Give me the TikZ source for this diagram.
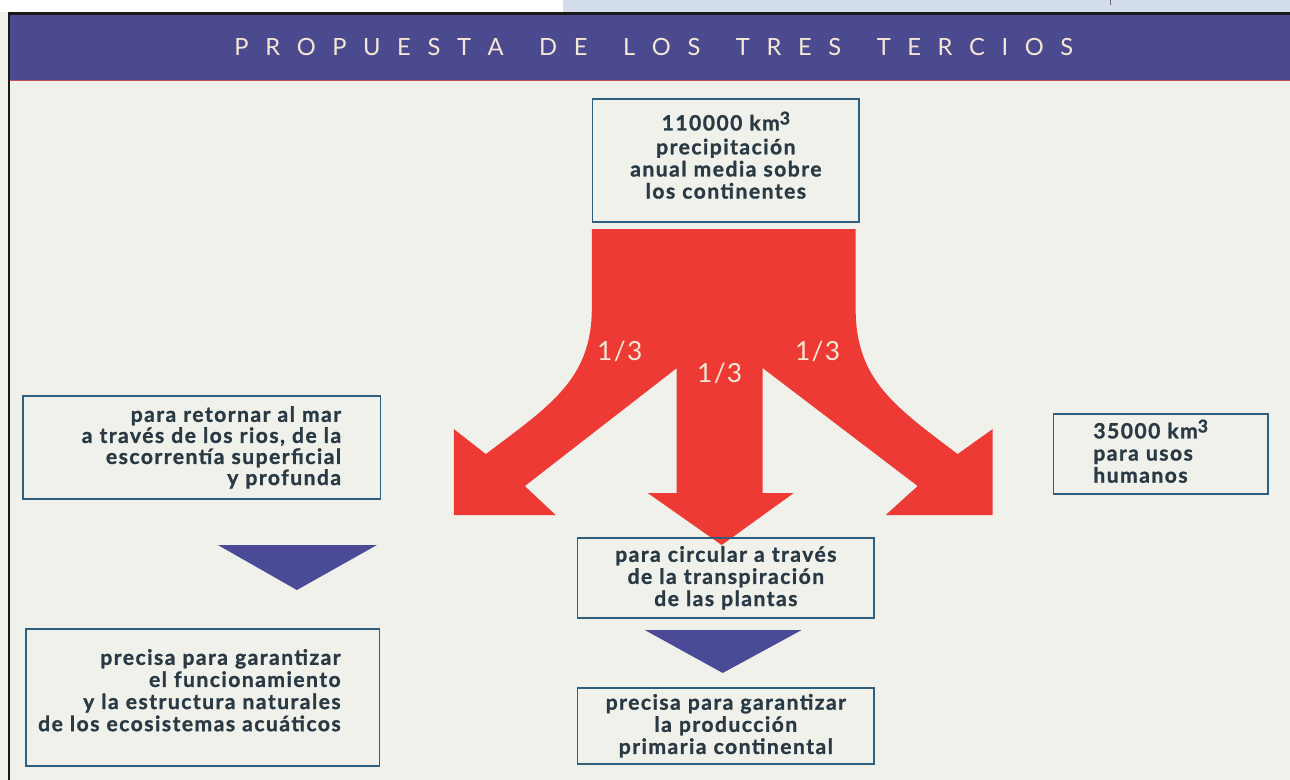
\documentclass[tikz,border=0pt]{standalone}
\usepackage{fontspec}
\setmainfont{Lato}
\newfontfamily\boxfont[LetterSpace=7,BoldFeatures={FakeBold=1.2}]{Lato}
\newfontfamily\titlefont{Lato}
\newfontfamily\partfont[LetterSpace=5]{Lato}
\newcommand{\cubic}{\raisebox{0.55ex}{\fontsize{10}{10}\selectfont 3}}
\makeatletter
\newcommand{\spreadword}[1]{\@tfor\sp@letter:=#1\do{\sp@letter\kern0.7em}\unkern}
\makeatother

\definecolor{r241g241b236}{rgb}{0.945098,0.945098,0.925490}%
\definecolor{r75g74b142}{rgb}{0.294118,0.290196,0.556863}%
\definecolor{r211g221b236}{rgb}{0.827451,0.866667,0.925490}%
\definecolor{r238g58b53}{rgb}{0.933333,0.227451,0.207843}%
\definecolor{r74g74b151}{rgb}{0.290196,0.290196,0.592157}%
\definecolor{r46g95b126}{rgb}{0.180392,0.372549,0.494118}%
\definecolor{r42g58b69}{rgb}{0.164706,0.227451,0.270588}%
\definecolor{r244g231b213}{rgb}{0.956863,0.905882,0.835294}%
\definecolor{r200g80b80}{rgb}{0.784314,0.313725,0.313725}%

\tikzset{
  textbox/.style={draw=r46g95b126, line width=0.032cm, anchor=north west,
    inner ysep=0pt, text=r42g58b69,
    execute at begin node={\hyphenpenalty=10000},
    font=\boxfont\bfseries\fontsize{12}{12.6}\selectfont},
  flushright/.style={inner xsep=0.05cm,
    execute at begin node={\raggedleft\rightskip=#1}},
  third/.style={text=r244g231b213, font=\partfont\fontsize{15}{15}\selectfont}
}

\begin{document}
\begin{tikzpicture}[x=0.02cm,y=-0.02cm]

% Page background and upper strip
\fill [r241g241b236] (0,0) rectangle (1290,780);%
\fill [white] (0,0) rectangle (563,12);%
\fill [r211g221b236] (563,0) rectangle (1290,12);%
\draw [line width=0.01cm, black!60] (1111,0) -- (1111,5);%

% Frame (top and left edge)
\fill [black!90] (8,12) rectangle (1290,15);%
\fill [black!90] (8,12) rectangle (10,780);%

% Banner with title
\fill [r75g74b142] (10,15) rectangle (1290,80);%
\draw [line width=0.02cm, r200g80b80] (10,80.5) -- (1290,80.5);%
\node (title) [text=r244g231b213, font=\titlefont\fontsize{13.5}{13.5}\selectfont] at (654,47)
  {\spreadword{PROPUESTA}\hspace{1.5em}\spreadword{DE}\hspace{1.5em}\spreadword{LOS}\hspace{1.5em}\spreadword{TRES}\hspace{1.5em}\spreadword{TERCIOS}};%

% Filling the three-way red arrow
\fill [r238g58b53] (592,229) -- (856,229) -- (856,309)
  .. controls (856,380) and (896,407) .. (958,454)
  -- (993,429) -- (993,515) -- (886,515) -- (918,486)
  -- (763,368) -- (763,493) -- (794,493) -- (722,545)
  -- (648,493) -- (677,493) -- (677,368)
  -- (525,486) -- (556,515) -- (454,515) -- (454,429) -- (486,454)
  .. controls (548,407) and (592,380) .. (592,309) -- cycle;%

% Marking the three thirds
\node (leftthird) [third] at (620,351) {1/3};%
\node (midthird) [third] at (720,373) {1/3};%
\node (rightthird) [third] at (818,351) {1/3};%

% Drawing box for the rainfall
\node (total) [textbox, minimum width=5.3cm, minimum height=2.46cm, text width=5.1cm, align=center] at (592,98)
  {110000 km\cubic\\[1pt]precipitación\\anual media sobre\\los continentes\par\vspace*{6pt}};%

% Drawing box for the return to the sea
\node (retorno) [textbox, flushright=0.74cm, minimum width=7.16cm, minimum height=2.06cm, text width=7.06cm,
  font=\boxfont\bfseries\fontsize{12}{12}\selectfont] at (22,395)
  {para retornar al mar\\a través de los rios, de la\\escorrentía superficial\\y profunda};%

% Drawing box for human uses
\node (usos) [textbox, minimum width=4.3cm, minimum height=1.6cm, text width=2.7cm, inner xsep=0.8cm, align=left] at (1053,413)
  {35000 km\cubic\\para usos\\humanos\par\vspace*{3pt}};%

% Drawing box for the transpiration
\node (transp) [textbox, minimum width=5.92cm, minimum height=1.6cm, text width=5.7cm, align=center] at (577,537)
  {para circular a través\\de la transpiración\\de las plantas};%

% Drawing box for the aquatic ecosystems
\node (ecosist) [textbox, flushright=0.73cm, minimum width=7.08cm, minimum height=2.74cm, text width=6.98cm] at (25,628)
  {precisa para garantizar\\el funcionamiento\\y la estructura naturales\\de los ecosistemas acuáticos\par\vspace*{8pt}};%

% Drawing box for the primary production
\node (produccion) [textbox, minimum width=5.92cm, minimum height=1.52cm, text width=5.7cm, align=center] at (577,687)
  {precisa para garantizar\\la producción\\primaria continental};%

% Filling the two blue triangles
\fill [r74g74b151] (218,545) -- (377,545) -- (297,590) -- cycle;%
\fill [r74g74b151] (645,630) -- (802,630) -- (723,673) -- cycle;%

\end{tikzpicture}
\end{document}
